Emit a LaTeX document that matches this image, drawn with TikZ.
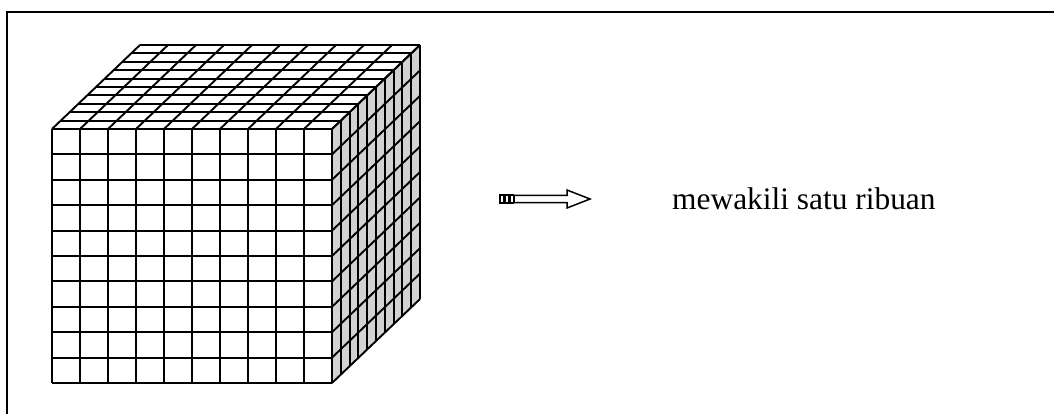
\documentclass[tikz,border=0pt]{standalone}
\usepackage{fontspec}
\setmainfont{Liberation Serif}
\begin{document}
\begin{tikzpicture}[x=1pt,y=-1pt,
  gridline/.style={line width=1.9pt,line join=miter},
  frameline/.style={line width=2.8pt},
  arrowline/.style={line width=1.5pt,line join=miter}]
\useasboundingbox (0,0) rectangle (1054,414);
% frame (only top and left visible)
\coordinate (fa) at (7,414);
\coordinate (fb) at (7,12);
\coordinate (fc) at (1054,12);
\draw[frameline] (fa) -- (fb) -- (fc);
% cube
\coordinate (A) at (52,129);
\coordinate (B) at (332,129);
\coordinate (C) at (332,383);
\coordinate (D) at (52,383);
\coordinate (E) at (140,45);
\coordinate (F) at (420,45);
\coordinate (G) at (420,299);
\fill[white] (A) -- (B) -- (C) -- (D) -- cycle;
\fill[white] (A) -- (E) -- (F) -- (B) -- cycle;
\fill[gray!35] (B) -- (F) -- (G) -- (C) -- cycle;
% front face
\foreach \i in {0,...,10}{
  \draw[gridline] ({52+28*\i},129) -- ({52+28*\i},383);
  \draw[gridline] (52,{129+25.4*\i}) -- (332,{129+25.4*\i});
}
% top face
\foreach \i in {0,...,10}{
  \draw[gridline] ({52+28*\i},129) -- ({140+28*\i},45);
  \draw[gridline] ({52+8.8*\i},{129-8.4*\i}) -- ({332+8.8*\i},{129-8.4*\i});
}
% right face
\foreach \i in {0,...,10}{
  \draw[gridline] (332,{129+25.4*\i}) -- (420,{45+25.4*\i});
  \draw[gridline] ({332+8.8*\i},{129-8.4*\i}) -- ({332+8.8*\i},{383-8.4*\i});
}
% arrow
\draw[arrowline] (500,195) rectangle (503.5,203);
\draw[arrowline] (505,195) rectangle (508.5,203);
\draw[arrowline] (510,195) rectangle (513.5,203);
\draw[arrowline,fill=white] (514,195.5) -- (567,195.5) -- (567,190) -- (590,199) -- (567,208) -- (567,202.5) -- (514,202.5) -- cycle;
\node[anchor=west,inner sep=0pt,font=\fontsize{31.4}{36}\selectfont] (lbl) at (672,199) {mewakili satu ribuan};
\end{tikzpicture}
\end{document}
